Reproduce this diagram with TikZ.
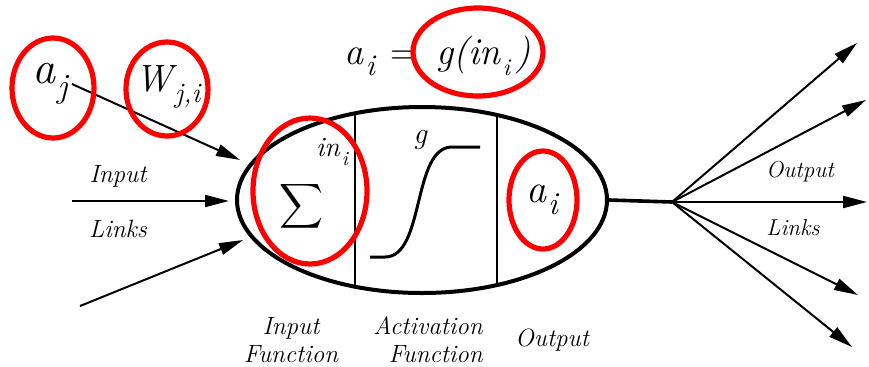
\documentclass[tikz,border=0pt]{standalone}
\usepackage{fontspec}
\usepackage{graphicx}
\usetikzlibrary{shapes.geometric, arrows.meta, positioning}

% variable with a lowered subscript: size, base, subsize, sub
\newcommand{\vsub}[4]{{\fontsize{#1}{#1}\selectfont\itshape #2\kern1pt\raisebox{-0.3em}{\fontsize{#3}{#3}\selectfont #4}}}

\begin{document}
\begin{tikzpicture}[
    x=0.5pt, y=-0.5pt,
    neuron/.style={ellipse, draw, line width=2pt, minimum width=185pt, minimum height=93pt},
    lbl/.style={font=\fontsize{12.5}{14}\selectfont\itshape, inner sep=0pt},
    olbl/.style={font=\fontsize{11.5}{13}\selectfont\itshape, inner sep=0pt},
    redring/.style={draw=red, line width=2.6pt},
    arrow/.style={-{Triangle[length=12pt, width=6pt]}, line width=1pt}
]
\useasboundingbox (0,0) rectangle (869,366);

% Nodes
\node[neuron] (neuron) at (422,200) {};
\node[inner sep=0pt] (aj) at (50,84) {\vsub{23}{a}{17}{j}};
\node[inner sep=0pt] (wji) at (168,87) {\vsub{19}{W}{14}{j,i}};
\node[inner sep=0pt] (eq) at (438,56) {\vsub{19}{a}{15}{i}\hspace{8pt}{\fontsize{19}{19}\selectfont =}\hspace{9pt}\vsub{19}{g(in}{12}{i}{\fontsize{19}{19}\selectfont\itshape\kern3pt)}};
\node[inner sep=0pt] (sum) at (301,206) {\resizebox*{22pt}{25pt}{$\displaystyle\sum$}};
\node[inner sep=0pt] (ini) at (332,152) {\vsub{14}{in}{10}{i}};
\node[inner sep=0pt, font=\fontsize{15}{15}\selectfont\itshape] (g) at (420,140) {g};
\node[inner sep=0pt] (ai) at (542,200) {\vsub{20}{a}{16}{i}};

% Labels
\node[lbl] (inlbl) at (118,176) {Input};
\node[lbl] (linklbl) at (118,229) {Links};
\node[olbl] (outlbl) at (800,172) {Output};
\node[olbl] (olinklbl) at (793,228) {Links};
\node[lbl, align=center] (inputfn) at (291,340) {Input\\Function};
\node[lbl, align=right] (actfn) at (428,340) {Activation\\Function};
\node[lbl] (output) at (552,340) {Output};

% Dividers and activation curve
\begin{scope}
    \clip (422,200) ellipse [x radius=185, y radius=93];
    \draw[line width=0.8pt] (355,100) -- (355,300);
    \draw[line width=0.8pt] (497,100) -- (497,300);
\end{scope}
\draw[line width=1.5pt] (370,257) -- (385,257) .. controls (425,257) and (412,147) .. (452,147) -- (480,147);

% Input links
\coordinate (in1) at (240,160);
\coordinate (src2) at (72,201);
\coordinate (in2) at (229,201);
\coordinate (src3) at (80,306);
\coordinate (in3) at (243,240);
\draw[arrow] ([xshift=2pt]aj.east) -- (in1);
\draw[arrow] (src2) -- (in2);
\draw[arrow] (src3) -- (in3);

% Output links
\coordinate (hub) at (672,202);
\draw[line width=1.8pt] (neuron.east) -- (hub);
\foreach \tx/\ty in {857/43, 866/100, 867/202, 858/295, 852/347}
    \draw[arrow] (hub) -- (\tx,\ty);

% Red marks
\draw[redring] (53,88) ellipse [x radius=41, y radius=50];
\draw[redring] (167,89) ellipse [x radius=41, y radius=47];
\draw[redring] (478,52) ellipse [x radius=65, y radius=44];
\draw[redring] (310,191) ellipse [x radius=57, y radius=73];
\draw[redring] (543,200) ellipse [x radius=34, y radius=49];

\end{tikzpicture}
\end{document}
